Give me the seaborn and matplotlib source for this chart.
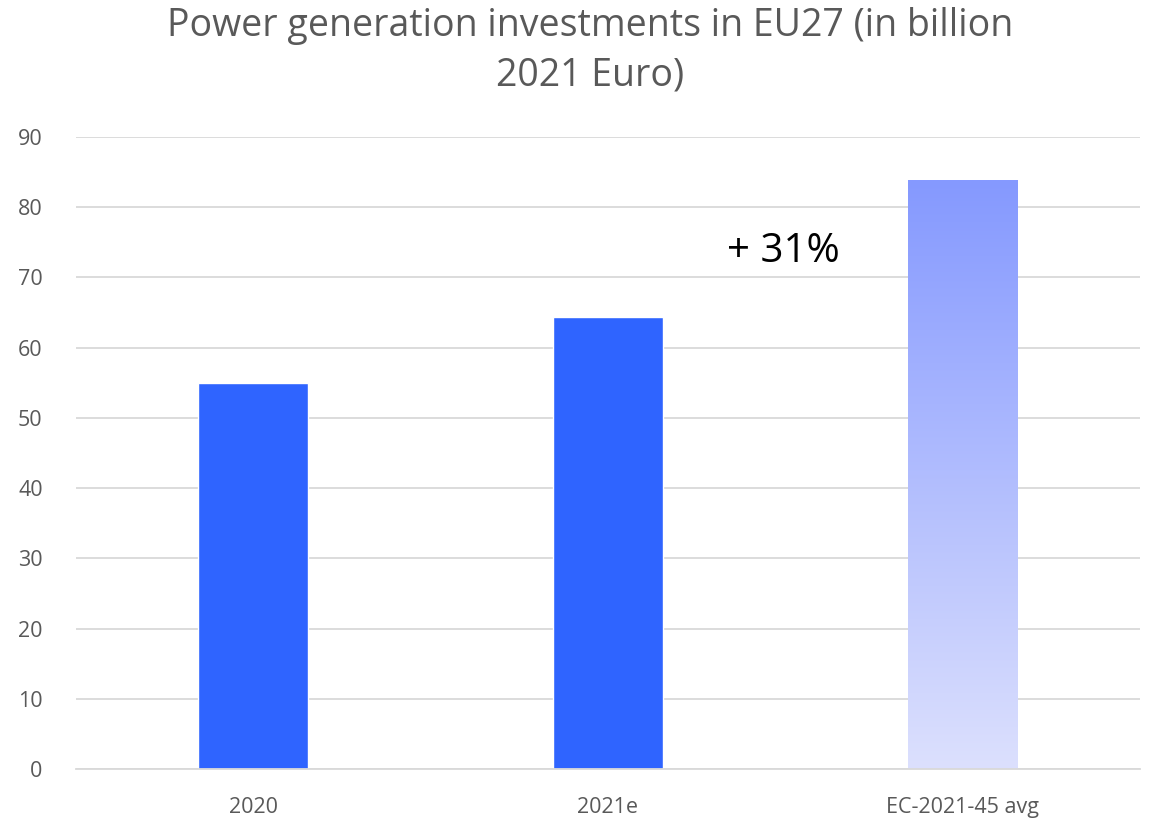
import numpy as np
import pandas as pd
import matplotlib
matplotlib.use("Agg")
import matplotlib.pyplot as plt
import seaborn as sns

# data
categories = ["2020", "2021e", "EC-2021-45 avg"]
investments = [55.0, 64.4, 83.8]
bar_colors = ["#2f64ff", "#2f64ff", "#8b9dff"]

sns.set_theme(style="white")
plt.rcParams["font.family"] = ["Open Sans", "DejaVu Sans"]

df = pd.DataFrame({"Category": categories, "Investment": investments})

fig = plt.figure(figsize=(11.53, 8.19), dpi=100)
ax = fig.add_axes([76 / 1153, 1 - 769 / 819, 1064 / 1153, (769 - 137) / 819])

sns.barplot(data=df, x="Category", y="Investment", hue="Category",
            palette=bar_colors, width=0.31, legend=False, ax=ax, saturation=1)

# gradient fill for the last (average) bar
grad_bar = ax.patches[2]
x0, y0 = grad_bar.get_x(), grad_bar.get_y()
w, h = grad_bar.get_width(), grad_bar.get_height()
grad_bar.set_alpha(0)
top = np.array(matplotlib.colors.to_rgb("#8599ff"))
bottom = np.array(matplotlib.colors.to_rgb("#dce0fd"))
t = np.linspace(0, 1, 256)[:, None]
img = (bottom * (1 - t) + top * t)[:, None, :]
ax.imshow(img, extent=[x0, x0 + w, y0, y0 + h], origin="lower",
          aspect="auto", zorder=grad_bar.get_zorder())
ax.set_xlim(-0.5, 2.5)
ax.set_ylim(0, 90)

ax.set_yticks(range(0, 91, 10))
ax.yaxis.grid(True, color="#d9d9d9", linewidth=1.3)
ax.set_axisbelow(True)
for side in ["top", "right", "left"]:
    ax.spines[side].set_visible(False)
ax.spines["bottom"].set_color("#d9d9d9")
ax.spines["bottom"].set_linewidth(1.3)
ax.tick_params(axis="both", length=0, labelsize=15.5, labelcolor="#595959")
ax.tick_params(axis="x", pad=20)
ax.tick_params(axis="y", pad=24)
ax.set_xlabel("")
ax.set_ylabel("")

ax.text(1.494, 73.6, "+ 31%", fontsize=29, color="black", ha="center", va="center")

fig.text(590 / 1153, 1 - 51 / 819, "Power generation investments in EU27 (in billion\n2021 Euro)",
         ha="center", va="center", fontsize=27, color="#595959", linespacing=1.4)

fig.savefig("out.png", dpi=100)
